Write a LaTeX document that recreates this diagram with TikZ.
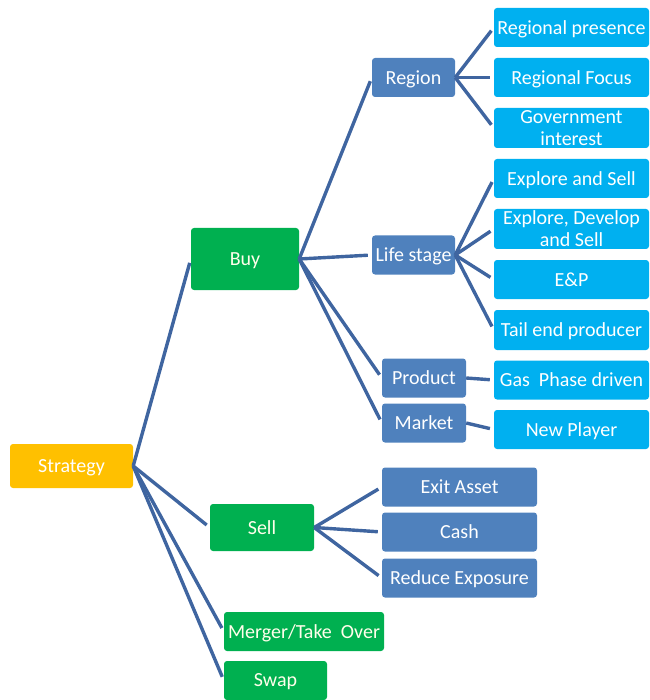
\documentclass[tikz,border=0pt]{standalone}
\usepackage{fontspec}
\setmainfont{Carlito}
\usepackage{tikz}
\usetikzlibrary{arrows.meta,positioning,calc}
\definecolor{Gold}{HTML}{FFC000}
\definecolor{Leaf}{HTML}{00B050}
\definecolor{Steel}{HTML}{4F81BD}
\definecolor{Azure}{HTML}{00B0F0}
\definecolor{Wire}{HTML}{3F65A0}

\begin{document}
\begin{tikzpicture}[
  x=1pt, y=-1pt,
  every node/.style={font=\fontsize{20}{22}\selectfont, text=white},
  box/.style={rectangle, rounded corners=3pt, align=center, inner sep=0pt,
              minimum height=39pt, text depth=0pt},
  root/.style={box, fill=Gold, minimum width=123pt, minimum height=44pt},
  top/.style={box, fill=Leaf, text=white!92!yellow},
  mid/.style={box, fill=Steel},
  leaf/.style={box, fill=Azure, minimum width=155pt},
  arr/.style={draw=Wire, line width=3.4pt, shorten >=4pt},
]
\useasboundingbox (0,0) rectangle (649,700);
% level 0 / 1
\node[root] (strat) at ( 71.5,466.0) {Strategy};
\node[top, minimum width=108pt, minimum height=62pt] (buy)  at (245.0,259.0) {Buy};
\node[top, minimum width=104pt, minimum height=47pt] (sell) at (262.0,527.5) {Sell};
\node[top, minimum width=160pt] (mrg)  at (304.0,631.5) {Merger/Take\ \ Over};
\node[top, minimum width=103pt] (swp)  at (275.5,680.5) {Swap};
% level 2
\node[mid, minimum width=83pt] (reg)  at (413.5, 77.5) {Region};
\node[mid, minimum width=83pt] (life) at (413.5,255.0) {Life stage};
\node[mid, minimum width=84pt] (prod) at (424.0,378.0) {Product};
\node[mid, minimum width=84pt] (mkt)  at (424.0,423.0) {Market};
\node[mid, minimum width=155pt] (exit) at (459.5,487.0) {Exit Asset};
\node[mid, minimum width=155pt] (cash) at (459.5,532.0) {Cash};
\node[mid, minimum width=155pt] (redu) at (459.5,578.0) {Reduce Exposure};
% level 3
\node[leaf] (pres) at (571.5, 27.5) {Regional presence};
\node[leaf] (focu) at (571.5, 77.5) {Regional Focus};
\node[leaf, minimum height=40pt] (govt) at (571.5,128.0) {Government\\interest};
\node[leaf] (exps) at (571.5,178.5) {Explore and Sell};
\node[leaf, minimum height=40pt] (expd) at (571.5,229.0) {Explore, Develop\\and Sell};
\node[leaf] (enp)  at (571.5,279.5) {E\&P};
\node[leaf, minimum height=40pt] (tail) at (571.5,330.0) {Tail end producer};
\node[leaf] (gas)  at (571.5,380.0) {Gas\ \ Phase driven};
\node[leaf] (newp) at (571.5,429.5) {New Player};
% connectors
\draw[arr] (strat.east) -- (buy.west);
\draw[arr] (strat.east) -- (sell.west);
\draw[arr] (strat.east) -- (mrg.west);
\draw[arr] (strat.east) -- (swp.west);
\draw[arr] (buy.east) -- (reg.west);
\draw[arr] (buy.east) -- (life.west);
\draw[arr] (buy.east) -- (prod.west);
\draw[arr] (buy.east) -- (mkt.west);
\draw[arr] (sell.east) -- (exit.west);
\draw[arr] (sell.east) -- (cash.west);
\draw[arr] (sell.east) -- (redu.west);
\draw[arr] (reg.east) -- (pres.west);
\draw[arr] (reg.east) -- (focu.west);
\draw[arr] (reg.east) -- (govt.west);
\draw[arr] (life.east) -- (exps.west);
\draw[arr] (life.east) -- (expd.west);
\draw[arr] (life.east) -- (enp.west);
\draw[arr] (life.east) -- (tail.west);
\draw[arr] (prod.east) -- (gas.west);
\draw[arr] (mkt.east) -- (newp.west);
\end{tikzpicture}
\end{document}
